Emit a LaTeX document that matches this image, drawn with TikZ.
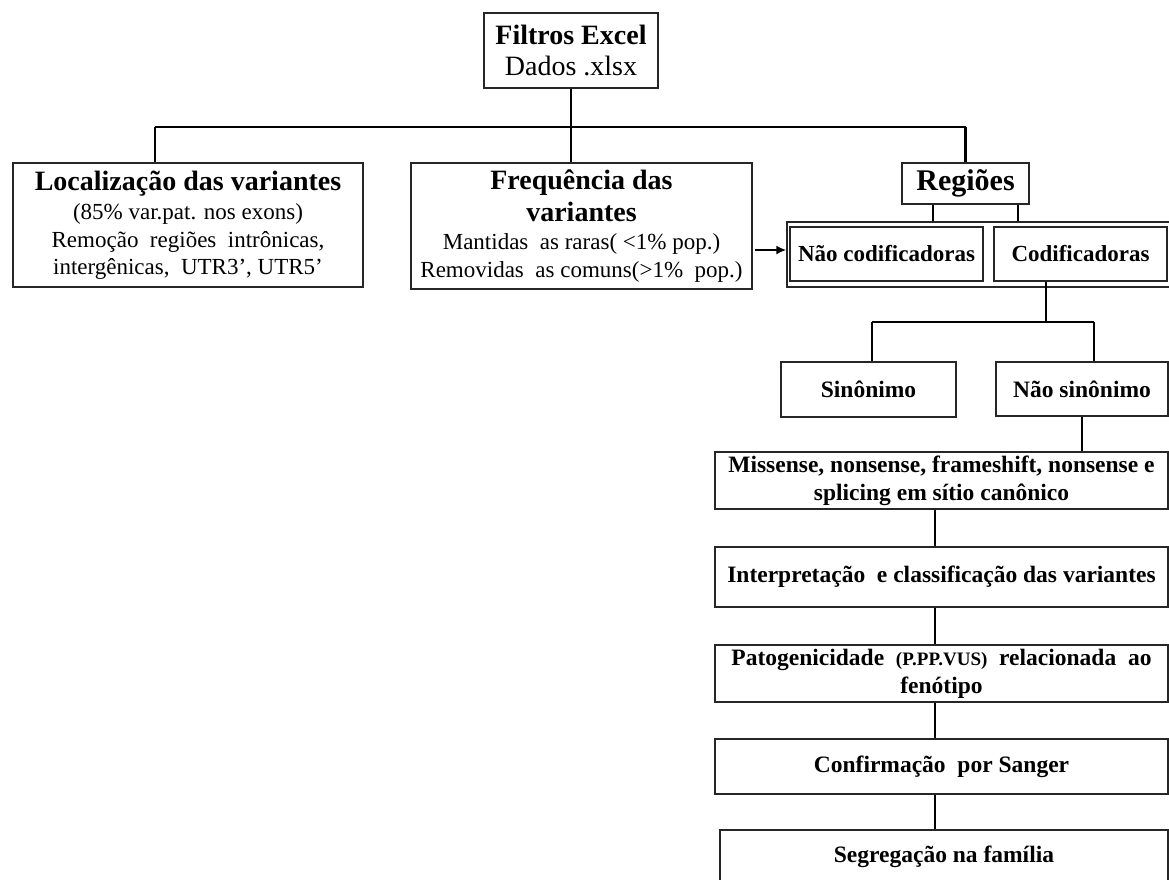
\documentclass[tikz,border=0pt]{standalone}
\usepackage{fontspec}
\setmainfont{Liberation Serif}
\usetikzlibrary{arrows.meta}

\newcommand{\hd}[1]{{\fontsize{28}{33}\selectfont\bfseries #1}}

\tikzset{
  box/.style={draw=black!85, line width=1.4pt, inner sep=0pt, align=center},
  link/.style={line width=2.8pt},
  bodytext/.style={font=\fontsize{23}{27.5}\selectfont},
  boldtext/.style={font=\fontsize{23.5}{28}\selectfont\bfseries},
}

\begin{document}
\begin{tikzpicture}[x=1pt, y=-1pt]
            \path[use as bounding box, fill=white] (0,0) rectangle (1169,879);
            % top
            \node[box, font=\fontsize{28}{31}\selectfont, minimum width=174pt, minimum height=75pt] at (571,50.5) (filtros) {\textbf{Filtros Excel}\\Dados .xlsx};
            % three filters
            \node[box, bodytext, minimum width=350pt, minimum height=124pt] at (188,225) (local) {\hd{Localização das variantes}\\[2pt](85\% var.pat. nos exons)\\Remoção\ \ regiões\ \ intrônicas,\\intergênicas,\ \ UTR3’, UTR5’};
            \node[box, bodytext, minimum width=341pt, minimum height=126pt] at (581.5,226) (freq) {\hd{Frequência das}\\[4pt]\hd{variantes}\\[1pt]Mantidas\ \ as raras( <1\% pop.)\\Removidas\ \ as comuns(>1\%\ \ pop.)};
            \node[box, font=\fontsize{30}{34}\selectfont\bfseries, minimum width=127pt, minimum height=41pt] at (965.5,183.5) (regioes) {Regiões};
            % coding / non coding
            \node[box, minimum width=385pt, minimum height=65pt] at (979.5,254.5) (frame) {};
            \node[box, font=\fontsize{23}{28}\selectfont\bfseries, minimum width=193pt, minimum height=54pt] at (886.5,254) (naocod) {Não codificadoras};
            \node[box, font=\fontsize{23}{28}\selectfont\bfseries, minimum width=173pt, minimum height=54pt] at (1080.5,254) (cod) {Codificadoras};
            \node[box, boldtext, minimum width=175pt, minimum height=55pt] at (868.5,389.5) (sin) {Sinônimo};
            \node[box, boldtext, minimum width=172pt, minimum height=54pt] at (1082,389) (naosin) {Não sinônimo};
            % pipeline
            \node[box, boldtext, minimum width=453pt, minimum height=57pt] at (941.5,480.5) (missense) {Missense, nonsense, frameshift,\ nonsense e\\splicing\ em\ sítio canônico};
            \node[box, boldtext, minimum width=453pt, minimum height=60pt] at (941.5,577) (interp) {Interpretação\ \ e classificação das variantes};
            \node[box, boldtext, minimum width=453pt, minimum height=57pt] at (941.5,673.5) (pato) {Patogenicidade\ \ {\fontsize{19}{22}\selectfont(P.PP.VUS)}\ \ relacionada\ \ ao\\fenótipo};
            \node[box, boldtext, minimum width=453pt, minimum height=55pt] at (941.5,766.5) (sanger) {Confirmação\ \ por\ Sanger};
            \node[box, boldtext, minimum width=448pt, minimum height=54pt] at (944,857) (segreg) {Segregação na\ família};
            % connectors
            \coordinate (busL) at (155,127);
            \coordinate (busR) at (965.5,127);
            \coordinate (bus2L) at (872,322);
            \coordinate (bus2R) at (1094,322);
            \coordinate (spine) at (935,0);
            \coordinate (arrow) at (755,250);
            \draw[link] (busL) -- (busR);
            \draw[link] (filtros.south) -- (filtros.south |- busL);
            \draw[link] (busL) -- (busL |- local.north);
            \draw[link] (filtros.south |- busL) -- (filtros.south |- freq.north);
            \draw[link] (busR) -- (regioes.north);
            \draw[-{Latex[length=10pt, width=9pt]}, line width=1.8pt] (arrow) -- (arrow -| frame.west);
            \draw[link] ([xshift=-32.5pt]regioes.south) -- ([xshift=-32.5pt]regioes.south |- frame.north);
            \draw[link] ([xshift=52.5pt]regioes.south) -- ([xshift=52.5pt]regioes.south |- frame.north);
            \draw[link] ([xshift=-34.5pt]cod.south) -- ([xshift=-34.5pt]cod.south |- bus2L);
            \draw[link] (bus2L) -- (bus2R);
            \draw[link] (bus2L) -- (bus2L |- sin.north);
            \draw[link] (bus2R) -- (bus2R |- naosin.north);
            \draw[link] (naosin.south) -- (naosin.south |- missense.north);
            \draw[link] (spine |- missense.south) -- (spine |- interp.north);
            \draw[link] (spine |- interp.south) -- (spine |- pato.north);
            \draw[link] (spine |- pato.south) -- (spine |- sanger.north);
            \draw[link] (spine |- sanger.south) -- (spine |- segreg.north);
\end{tikzpicture}
\end{document}
